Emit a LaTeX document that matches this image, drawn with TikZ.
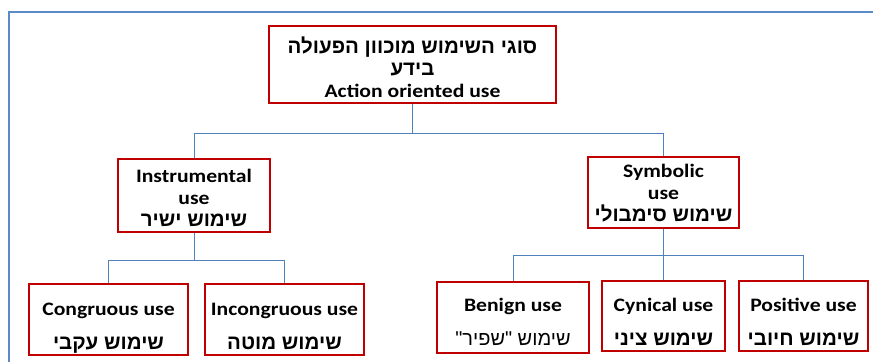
\documentclass[tikz,border=0pt]{standalone}
\usepackage{fontspec}
\setmainfont{Carlito}[FakeStretch=1.14]
\newfontfamily\hebfont[Script=Hebrew]{Liberation Sans}
\TeXXeTstate=1
\definecolor{boxred}{HTML}{C00000}
\definecolor{linkblue}{HTML}{4F81BD}
\definecolor{framebl}{HTML}{5B8AC9}
\newcommand{\heb}[1]{{\hebfont\bfseries\fontsize{20.5}{22}\selectfont\beginR #1\endR}}
\newcommand{\hebr}[1]{{\hebfont\mdseries\fontsize{20}{22}\selectfont\beginR #1\endR}}
\begin{document}
\begin{tikzpicture}[x=1pt,y=-1pt,
  ubox/.style={draw=boxred, line width=2.4pt, fill=white, inner sep=0pt, align=center,
    font=\bfseries\fontsize{19}{22}\selectfont, text depth=5pt},
  link/.style={draw=linkblue, line width=1pt}]
\useasboundingbox (0,0) rectangle (873,362);
\draw[framebl, line width=1.8pt] (9,362) -- (9,12) -- (873,12);

\node[ubox, text height=70pt, minimum width=287pt, minimum height=77pt] (top) at (412.5,64.5)
  {\heb{סוגי השימוש מוכוון הפעולה}\\ \heb{בידע}\\ Action oriented use};
\node[ubox, text height=66pt, minimum width=152pt, minimum height=73pt] (inst) at (194,195.5)
  {Instrumental\\ use\\ \heb{שימוש ישיר}};
\node[ubox, text height=62pt, minimum width=151pt, minimum height=71pt] (symb) at (663.5,192.5)
  {Symbolic\\ use\\ \heb{שימוש סימבולי}};

\node[ubox, text height=65pt, minimum width=159pt, minimum height=71pt] (cong) at (108.5,319.5)
  {Congruous use\\[12pt] \heb{שימוש עקבי}};
\node[ubox, text height=65pt, minimum width=159pt, minimum height=71pt] (incong) at (284.5,319.5)
  {Incongruous use\\[12pt] \heb{שימוש מוטה}};
\node[ubox, text height=61pt, minimum width=152pt, minimum height=71pt] (benign) at (513,317.5)
  {Benign use\\[12pt] \hebr{שימוש "שפיר"}};
\node[ubox, text height=64pt, minimum width=123pt, minimum height=70pt] (cyn) at (663.5,316)
  {Cynical use\\[12pt] \heb{שימוש ציני}};
\node[ubox, text height=64pt, minimum width=129pt, minimum height=70pt] (pos) at (803.5,316)
  {Positive use\\[12pt] \heb{שימוש חיובי}};

\draw[link] (top.south) -- ++(0,29) coordinate (j1);
\draw[link] (j1) -| (inst.north);
\draw[link] (j1) -| (symb.north);
\draw[link] (inst.south) -- ++(0,27) coordinate (j2);
\draw[link] (j2) -| (cong.north);
\draw[link] (j2) -| (incong.north);
\draw[link] (symb.south) -- ++(0,26) coordinate (j3);
\draw[link] (j3) -| (benign.north);
\draw[link] (j3) -- (cyn.north);
\draw[link] (j3) -| (pos.north);
\end{tikzpicture}
\end{document}
